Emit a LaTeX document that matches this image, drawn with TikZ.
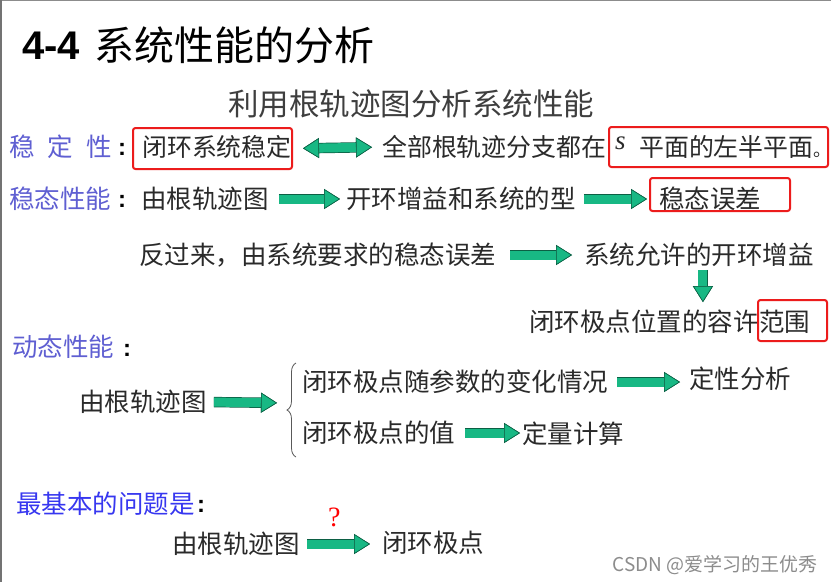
\documentclass[tikz,border=0pt]{standalone}
\usepackage{fontspec}
\setmainfont{Noto Sans CJK SC}
\newfontfamily\latsans{Liberation Sans}
\newfontfamily\latserif{Liberation Serif}
\usetikzlibrary{arrows.meta,decorations.pathreplacing}
\definecolor{txtc}{RGB}{42,42,42}
\definecolor{subc}{RGB}{62,62,62}
\definecolor{lblue}{RGB}{95,95,210}
\definecolor{bblue}{RGB}{55,55,240}
\definecolor{agreen}{RGB}{24,184,132}
\definecolor{adark}{RGB}{12,95,68}
\definecolor{boxred}{RGB}{236,28,28}
\definecolor{wmc}{RGB}{140,140,140}
\tikzset{
  GT/.tip={Triangle[length=16pt,width=20pt,fill=agreen,color=adark,line width=0.6pt]},
  t25/.style={inner sep=0pt, anchor=west, text=txtc, font=\fontsize{25.5}{30}\selectfont, text height=21.4pt, text depth=2pt},
  t25s/.style={t25, font=\fontsize{24.9}{30}\selectfont},
  lab/.style={t25, text=lblue},
  labb/.style={t25, text=bblue},
  colon/.style={inner sep=0pt, text=black, font=\latsans\bfseries\fontsize{24}{24}\selectfont},
  redbox/.style={draw=boxred, line width=2pt, rounded corners=2.5pt, inner sep=0pt},
  fat/.style={-GT, draw=agreen, line width=9pt, preaction={draw=adark, line width=10.4pt, -GT}},
  dbl/.style={GT-GT, draw=agreen, line width=9pt, preaction={draw=adark, line width=10.4pt, GT-GT}},
  bracestyle/.style={draw=black!65, line width=0.8pt, decorate, decoration={brace, amplitude=9pt}},
}
\begin{document}
\begin{tikzpicture}[x=1pt,y=-1pt]
\fill[white] (0,0) rectangle (831,582);
\useasboundingbox (0,0) rectangle (831,582);
\draw[black!45, line width=1pt] (0,0.5) -- (831,0.5);
\draw[black!55, line width=1.6pt] (0.8,0) -- (0.8,582);

% title
\node[inner sep=0pt, anchor=west, font=\latsans\bfseries\fontsize{40}{44}\selectfont] (t44) at (22,46) {4-4};
\node[inner sep=0pt, anchor=west, font=\fontsize{40}{44}\selectfont, text height=33.6pt, text depth=3.2pt] (ttl) at (94,45) {系统性能的分析};
\node[inner sep=0pt, text=subc, font=\fontsize{30.5}{34}\selectfont, text height=25.6pt, text depth=2.4pt] (sub) at (411,104) {利用根轨迹图分析系统性能};

% row 1
\node[lab] (stab) at (9,147) {稳\hspace{13pt}定\hspace{13pt}性};
\node[colon] (c1) at (122,149) {:};
\node[t25s] (closed) at (142,147) {闭环系统稳定};
\node[redbox, minimum width=159pt, minimum height=41pt] (b1) at (212.5,148.5) {};
\node[t25s] (allb) at (382,147) {全部根轨迹分支都在};
\node[inner sep=0pt, anchor=base west, text=txtc, font=\latserif\itshape\fontsize{27}{27}\selectfont] (s) at (615,149) {s};
\node[t25s] (half) at (639,147) {平面的左半平面};
\node[inner sep=0pt, anchor=base west, text=txtc, font=\fontsize{18}{18}\selectfont] (dot) at (813,156) {。};
\node[redbox, minimum width=219pt, minimum height=40pt] (b2) at (718.5,147) {};
\draw[dbl, shorten <=10pt, shorten >=10pt] (b1.east) -- (allb.west);

% row 2
\node[lab] (ss) at (9,199) {稳态性能};
\node[colon] (c2) at (122,201) {:};
\node[t25] (rl1) at (141,199) {由根轨迹图};
\node[t25] (gain0) at (346,199) {开环增益和系统的型};
\node[t25] (err) at (659,199) {稳态误差};
\node[redbox, minimum width=140pt, minimum height=33pt] (b3) at (720,194.5) {};
\draw[fat, shorten <=10pt, shorten >=6pt] (rl1.east) -- (gain0.west);
\draw[fat, shorten <=8pt, shorten >=2pt] (gain0.east) -- (gain0.east -| b3.west);

% row 3
\node[t25] (rev) at (139,255) {反过来，由系统要求的稳态误差};
\node[t25] (allow) at (584,255) {系统允许的开环增益};
\draw[fat, shorten <=14pt, shorten >=12pt] (rev.east) -- (allow.west);

% row 4
\node[t25] (rng) at (529,322) {闭环极点位置的容许};
\node[t25] (rng2) at (rng.east) {范围};
\node[redbox, minimum width=69pt, minimum height=41pt] (b4) at (792.5,320.5) {};
\draw[fat, shorten <=3pt, shorten >=8pt] ([xshift=4pt]allow.south) -- ([xshift=4pt]allow.south |- rng.north);

% dynamic
\node[lab] (dyn) at (12,347) {动态性能};
\node[colon] (c3) at (127,350) {:};
\node[t25] (rl2) at (79,402) {由根轨迹图};
\coordinate (brtip) at (285,403);
\coordinate (brbot) at (296,457);
\coordinate (brtop) at (296,363);
\draw[bracestyle] (brbot) -- (brtop);
\draw[fat, shorten <=7pt, shorten >=8pt] (rl2.east) -- (brtip);
\node[t25] (var) at (302,382) {闭环极点随参数的变化情况};
\node[t25] (qual) at (689,379) {定性分析};
\draw[fat, shorten <=9pt, shorten >=9pt] (var.east) -- (var.east -| qual.west);
\node[t25] (val) at (302,433) {闭环极点的值};
\node[t25] (quant) at (522,434) {定量计算};
\draw[fat, shorten <=10pt, shorten >=2pt] (val.east) -- (val.east -| quant.west);

% bottom
\node[labb] (basic) at (16,504) {最基本的问题是};
\node[colon] (c4) at (201,506) {:};
\node[t25] (rl3) at (172,544) {由根轨迹图};
\node[t25] (poles) at (382,543) {闭环极点};
\draw[fat, shorten <=7.5pt, shorten >=12pt] (rl3.east) -- node[pos=0.42, above=13pt, inner sep=0pt, text=red, font=\latserif\fontsize{28}{28}\selectfont] (q) {?} (rl3.east -| poles.west);

% watermark
\node[inner sep=0pt, anchor=east, text=wmc, font=\fontsize{19}{19}\selectfont] (wm) at (818,565) {CSDN @爱学习的王优秀};
\end{tikzpicture}
\end{document}
